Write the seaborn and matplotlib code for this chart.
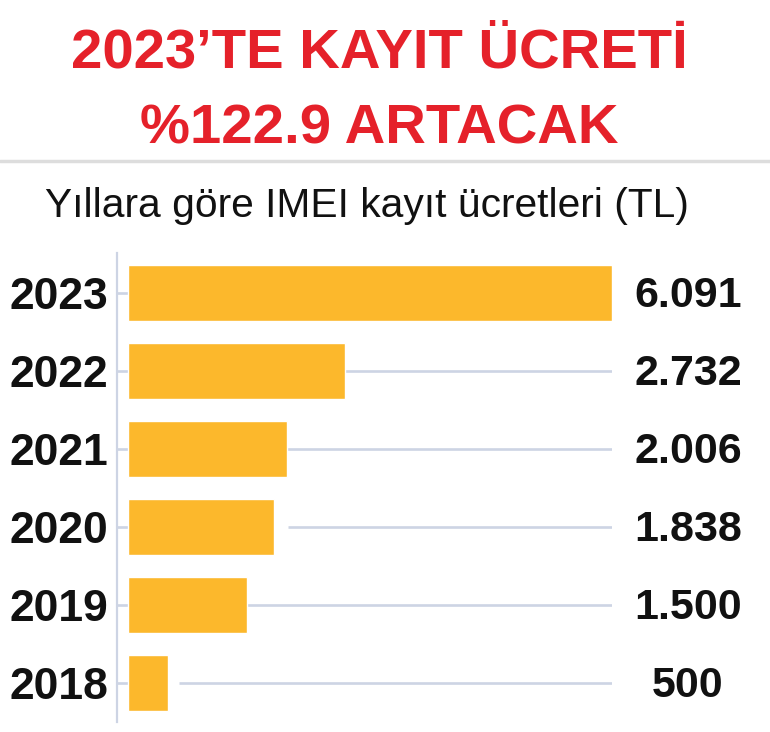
import matplotlib
matplotlib.use("Agg")
import matplotlib.pyplot as plt
import matplotlib.transforms as mtransforms
import seaborn as sns
import pandas as pd

# ---- data ----
years = ["2023", "2022", "2021", "2020", "2019", "2018"]
fees = [6091, 2732, 2006, 1838, 1500, 500]
title_lines = ["2023’TE KAYIT ÜCRETİ", "%122.9 ARTACAK"]
subtitle = "Yıllara göre IMEI kayıt ücretleri (TL)"

df = pd.DataFrame({"year": years, "fee": fees})

sns.set_theme(style="white")
FONT = ["Liberation Sans", "DejaVu Sans"]
plt.rcParams["font.family"] = FONT

BAR = "#fcb82c"
GRID = "#cdd4e4"
RED = "#e5212a"
# style: pixel gap between bar end and its guide line, per row
line_gap_px = [0, 0, 0, 14, 0, 11]

fig = plt.figure(figsize=(7.7, 7.32), dpi=100)
fig.patch.set_facecolor("white")
ax = fig.add_axes([117 / 770, 1 - 722 / 732, (612 - 117) / 770, (722 - 253) / 732])

sns.barplot(data=df, x="fee", y="year", order=years, orient="h",
            color=BAR, width=0.72, saturation=1, ax=ax, zorder=2)

xmin = -138
ax.set_xlim(xmin, max(fees))
ax.set_ylim(len(years) - 0.5, -0.51)

units_per_px = (max(fees) - xmin) / 495
for i, v in enumerate(fees):
    ax.hlines(i, xmin, 0, color=GRID, lw=1.9, zorder=1)
    start = v + line_gap_px[i] * units_per_px
    if start < max(fees):
        ax.hlines(i, start, max(fees), color=GRID, lw=1.9, zorder=1)

for s in ["top", "right", "bottom"]:
    ax.spines[s].set_visible(False)
ax.spines["left"].set_color(GRID)
ax.spines["left"].set_linewidth(1.6)
ax.set_xlabel("")
ax.set_ylabel("")
ax.set_xticks([])
ax.tick_params(axis="y", length=0, pad=6.5, labelsize=32, labelcolor="#111111")
for lbl in ax.get_yticklabels():
    lbl.set_fontweight("bold")

trans = mtransforms.blended_transform_factory(ax.transAxes, ax.transData)
for i, v in enumerate(fees):
    ax.text((688 - 117) / 495, i + 0.04, f"{v:,}".replace(",", "."),
            transform=trans, ha="center", va="center", fontsize=31,
            fontweight="bold", color="#111111", clip_on=False)

# title
fig.text(379 / 770, 1 - 68 / 732, title_lines[0], ha="center", va="baseline",
         fontsize=40.5, fontweight="bold", color=RED)
fig.text(379 / 770, 1 - 143 / 732, title_lines[1], ha="center", va="baseline",
         fontsize=40.5, fontweight="bold", color=RED)

# shadow separator
fig.add_artist(plt.Line2D([0, 1], [1 - 161 / 732, 1 - 161 / 732],
                          transform=fig.transFigure, color="#dddddd", lw=2.5))

fig.text(367 / 770, 1 - 217 / 732, subtitle, ha="center", va="baseline",
         fontsize=29.3, color="#111111")

fig.savefig("out.png", dpi=100, facecolor="white")
